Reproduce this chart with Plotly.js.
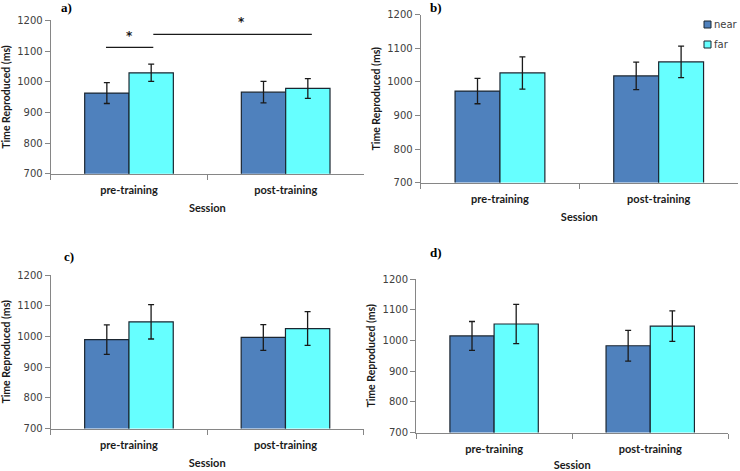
<!DOCTYPE html>
<html>
<head>
<meta charset="utf-8">
<script src="https://cdn.plot.ly/plotly-3.0.1.min.js"></script>
<style>
  body { margin: 0; background: #fff; }
  #grafico { width: 740px; height: 471px; }
</style>
</head>
<body>
<div id="grafico"></div>
<script>
// datos (ms)
var sesiones = ["pre-training", "post-training"];
var grupos = ["near", "far"];

var nearA = [963, 966], nearAErr = [34, 35];
var farA = [1029, 978], farAErr = [28, 32];

var nearB = [973, 1018], nearBErr = [38, 41];
var farB = [1027, 1060], farBErr = [48, 47];

var nearC = [990, 997], nearCErr = [48, 42];
var farC = [1048, 1026], farCErr = [56, 55];

var nearD = [1015, 983], nearDErr = [47, 50];
var farD = [1054, 1047], farDErr = [64, 50];

var colorNear = "#4f81bd";
var colorFar = "#66ffff";
var gris = "#868686";
var borde = "#1b2631";

// crea una barra con su error
function barra(nombre, valores, errores, color, ejeX, ejeY) {
    return {
        type: "bar",
        name: nombre,
        x: sesiones,
        y: valores,
        xaxis: ejeX,
        yaxis: ejeY,
        showlegend: false,
        marker: { color: color, line: { color: borde, width: 1.2 } },
        error_y: { type: "data", array: errores, visible: true, color: "#1a1a1a", thickness: 1.3, width: 3 },
        hoverinfo: "skip"
    };
}

var data = [
    barra(grupos[0], nearA, nearAErr, colorNear, "x", "y"),
    barra(grupos[1], farA, farAErr, colorFar, "x", "y"),
    barra(grupos[0], nearB, nearBErr, colorNear, "x2", "y2"),
    barra(grupos[1], farB, farBErr, colorFar, "x2", "y2"),
    barra(grupos[0], nearC, nearCErr, colorNear, "x3", "y3"),
    barra(grupos[1], farC, farCErr, colorFar, "x3", "y3"),
    barra(grupos[0], nearD, nearDErr, colorNear, "x4", "y4"),
    barra(grupos[1], farD, farDErr, colorFar, "x4", "y4")
];

// ejes comunes
function ejeX(dominio, ancla) {
    return {
        domain: dominio,
        anchor: ancla,
        type: "category",
        tickson: "boundaries",
        ticks: "outside",
        ticklen: 5,
        tickcolor: gris,
        showline: true,
        linecolor: gris,
        linewidth: 1,
        showgrid: false,
        zeroline: false,
        ticklabelstandoff: 6,
        tickfont: { family: "Lato", size: 11, color: "#1a1a1a", weight: "bold" },
        title: { text: "<b>Session</b>", font: { family: "Lato", size: 11, color: "#1a1a1a" }, standoff: 9 }
    };
}

function ejeY(dominio, ancla) {
    return {
        domain: dominio,
        anchor: ancla,
        range: [700, 1200],
        dtick: 100,
        ticks: "outside",
        ticklen: 5,
        tickcolor: gris,
        showline: true,
        linecolor: gris,
        linewidth: 1,
        showgrid: false,
        zeroline: false,
        tickfont: { family: "DejaVu Sans", size: 10, color: "#404040" },
        title: { text: "<b>Time Reproduced (ms)</b>", font: { family: "Lato", size: 10.5, color: "#1a1a1a" }, standoff: 4 }
    };
}

var etiqueta = { family: "Liberation Serif", size: 13, color: "#000" };
var estrella = { family: "DejaVu Sans", size: 12, color: "#1a1a1a" };
var textoLeyenda = { family: "DejaVu Sans", size: 10, color: "#404040" };

// anotacion en coordenadas de papel (pixeles desde arriba a la izquierda)
function texto(t, px, py, anclaX, fuente) {
    return { text: t, xref: "paper", yref: "paper", x: px / 740, y: 1 - py / 471, xanchor: anclaX, yanchor: "middle", showarrow: false, font: fuente };
}

var layout = {
    width: 740,
    height: 471,
    margin: { l: 0, r: 0, t: 0, b: 0 },
    paper_bgcolor: "#fff",
    plot_bgcolor: "#fff",
    barmode: "group",
    bargap: 0.434,
    bargroupgap: 0,
    xaxis: ejeX([0.0685, 0.4919], "y"),
    yaxis: ejeY([0.631, 0.9569], "x"),
    xaxis2: ejeX([0.5684, 0.9973], "y2"),
    yaxis2: ejeY([0.6125, 0.9682], "x2"),
    xaxis3: ejeX([0.0685, 0.4915], "y3"),
    yaxis3: ejeY([0.0902, 0.4157], "x3"),
    xaxis4: ejeX([0.5622, 0.9842], "y4"),
    yaxis4: ejeY([0.0817, 0.4072], "x4"),
    shapes: [
        // lineas de significancia del panel a
        { type: "line", xref: "x", yref: "y", x0: -0.147, x1: 0.155, y0: 1112, y1: 1112, line: { color: "#1a1a1a", width: 1.3 } },
        { type: "line", xref: "x", yref: "y", x0: 0.155, x1: 1.167, y0: 1154, y1: 1154, line: { color: "#1a1a1a", width: 1.3 } },
        // cuadritos de la leyenda (panel b)
        { type: "rect", xref: "paper", yref: "paper", x0: 704 / 740, x1: 711 / 740, y0: 1 - 28 / 471, y1: 1 - 21 / 471, fillcolor: colorNear, line: { color: borde, width: 1 } },
        { type: "rect", xref: "paper", yref: "paper", x0: 704 / 740, x1: 711 / 740, y0: 1 - 48 / 471, y1: 1 - 41 / 471, fillcolor: colorFar, line: { color: borde, width: 1 } }
    ],
    annotations: [
        { text: "<b>*</b>", xref: "x", yref: "y", x: 0.006, y: 1154, xanchor: "center", yanchor: "middle", showarrow: false, yshift: -1.5, font: estrella },
        { text: "<b>*</b>", xref: "x", yref: "y", x: 0.716, y: 1200, xanchor: "center", yanchor: "middle", showarrow: false, yshift: -1.5, font: estrella },
        texto("<b>a)</b>", 66, 8, "center", etiqueta),
        texto("<b>b)</b>", 436, 8, "center", etiqueta),
        texto("<b>c)</b>", 69, 256, "center", etiqueta),
        texto("<b>d)</b>", 436, 252, "center", etiqueta),
        texto(grupos[0], 712, 24.5, "left", textoLeyenda),
        texto(grupos[1], 712, 44.5, "left", textoLeyenda)
    ]
};

Plotly.newPlot("grafico", data, layout, { displayModeBar: false, staticPlot: true });
</script>
</body>
</html>
